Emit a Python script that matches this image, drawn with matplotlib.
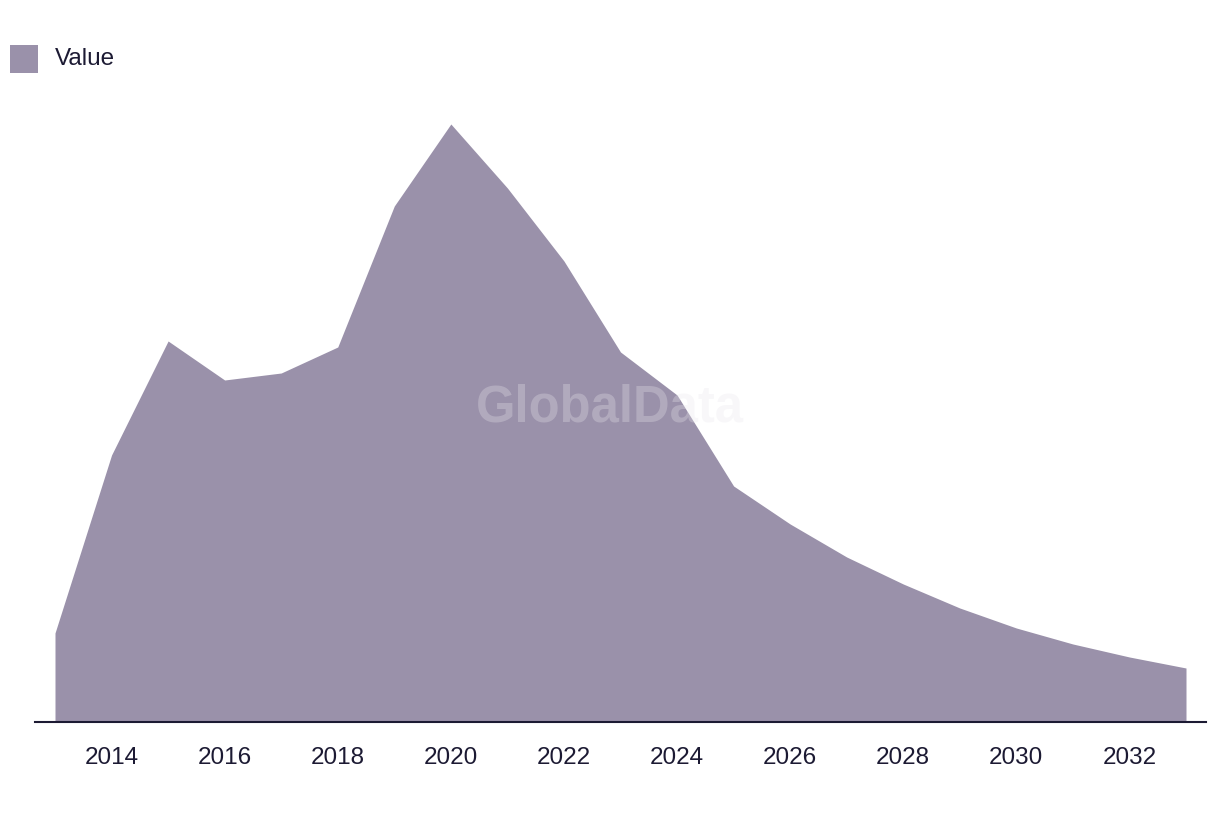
import matplotlib
matplotlib.use("Agg")
import matplotlib.pyplot as plt
from matplotlib.patches import Rectangle

plt.rcParams['font.family'] = ['Liberation Sans', 'DejaVu Sans']

years = list(range(2013, 2034))
values = [89, 267, 381, 342, 349, 375, 516, 598, 534, 461, 370,
          327, 236, 198, 165, 138, 114, 94, 78, 65, 54]
tick_years = list(range(2014, 2034, 2))

fill_color = '#9a91aa'
text_color = '#1c1a33'

W, H = 1220, 814
fig = plt.figure(figsize=(W / 100, H / 100), dpi=100)
ax = fig.add_axes([35 / W, 1 - 722 / H, (1206 - 35) / W, (722 - 100) / H])

ax.fill_between(years, values, 0, color=fill_color, linewidth=0)

step = (2033 - 2013) / (1186 - 55)
ax.set_xlim(2013 - 20 * step, 2033 + 20 * step)
ax.set_ylim(0, 622)

for s in ['top', 'right', 'left']:
    ax.spines[s].set_visible(False)
ax.spines['bottom'].set_color(text_color)
ax.spines['bottom'].set_linewidth(1.5)
ax.set_yticks([])
ax.set_xticks(tick_years)
ax.set_xticklabels([str(y) for y in tick_years])
ax.tick_params(axis='x', length=0, pad=18, labelsize=17.5, labelcolor=text_color)

# watermark
fig.text(0.5, 1 - 408 / H, 'GlobalData', ha='center', va='center',
         fontsize=36.5, fontweight='bold', color='#e8e6ec', alpha=0.3, zorder=5)

# legend
fig.add_artist(Rectangle((10 / W, 1 - 73 / H), 28 / W, 28 / H,
                         transform=fig.transFigure, color=fill_color, linewidth=0))
fig.text(55 / W, 1 - 59 / H, 'Value', ha='left', va='center',
         fontsize=17.5, color=text_color)

fig.savefig('out.png', dpi=100, facecolor='white')
